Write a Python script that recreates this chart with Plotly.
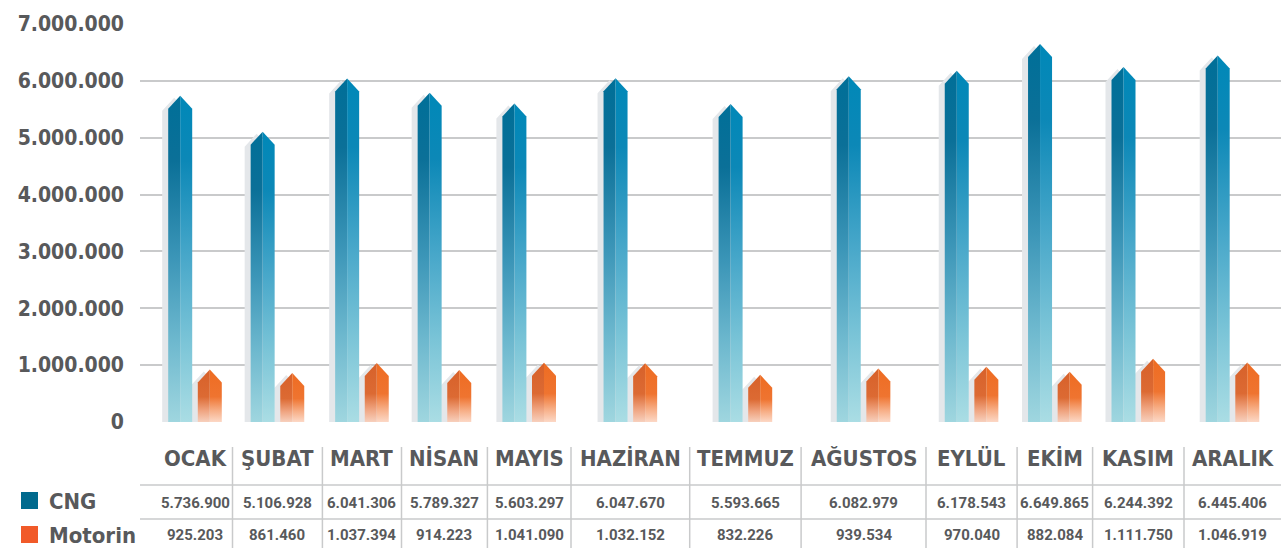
import plotly.graph_objects as go

# ---------------- data ----------------
months = ["OCAK", "ŞUBAT", "MART", "NİSAN", "MAYIS", "HAZİRAN",
          "TEMMUZ", "AĞUSTOS", "EYLÜL", "EKİM", "KASIM", "ARALIK"]
cng = [5736900, 5106928, 6041306, 5789327, 5603297, 6047670,
       5593665, 6082979, 6178543, 6649865, 6244392, 6445406]
motorin = [925203, 861460, 1037394, 914223, 1041090, 1032152,
           832226, 939534, 970040, 882084, 1111750, 1046919]
series_names = ["CNG", "Motorin"]
y_ticks = [0, 1000000, 2000000, 3000000, 4000000, 5000000, 6000000, 7000000]
y_tick_labels = ["0", "1.000.000", "2.000.000", "3.000.000", "4.000.000",
                 "5.000.000", "6.000.000", "7.000.000"]

# ---------------- layout (pixels) ----------------
W, H = 1281, 548
PL, PR, PT, PB = 140, 1281, 24, 422
col_edges = [157.5, 232.5, 322.4, 401.5, 487.4, 571, 689.7, 801.1,
             926, 1017.1, 1092.6, 1184, 1281]
BAR_W = 24
HALF_PAIR = 14.8
TIP_PX = 13
SHADOW_DX = 6
SHADOW_DY = 2
YMAX = 7000000
PX2VAL = YMAX / (PB - PT)

TEXT = "#58595B"
GRID = "#C9CACB"
COND = "DejaVu Sans Condensed, DejaVu Sans, sans-serif"
NUMF = "Roboto, DejaVu Sans Condensed, sans-serif"

cng_left = [[0, "#9FD6DF"], [0.25, "#6DB8CE"], [0.5, "#3C96B8"], [0.8, "#0B7098"], [1, "#006F98"]]
cng_right = [[0, "#AADDE4"], [0.25, "#7AC4D7"], [0.5, "#49A8CA"], [0.8, "#0C88B7"], [1, "#0088B8"]]
mot_left = [[0, "#F7D0BD"], [0.22, "#EFA37F"], [0.48, "#DC6A33"], [1, "#D7612A"]]
mot_right = [[0, "#FCD8C6"], [0.22, "#F7AE86"], [0.48, "#EF7430"], [1, "#EE6C22"]]


def px_x(x):
    return (x - PL) / (PR - PL)


def px_y(y):
    return (PB - y) / (PB - PT)


centers = [(a + b) / 2 for a, b in zip(col_edges[:-1], col_edges[1:])]
tip = TIP_PX * PX2VAL

fig = go.Figure()

# shadows
sx, sy = [], []
for vals, off in ((cng, -HALF_PAIR), (motorin, HALF_PAIR)):
    for c, v in zip(centers, vals):
        xc = c + off - SHADOW_DX
        top = v - SHADOW_DY * PX2VAL
        sx += [xc - BAR_W / 2, xc - BAR_W / 2, xc, xc + BAR_W / 2, xc + BAR_W / 2, xc - BAR_W / 2, None]
        sy += [0, top - tip, top, top - tip, 0, 0, None]
fig.add_trace(go.Scatter(x=sx, y=sy, mode="lines", line=dict(width=0),
                         fill="toself", fillcolor="#E4E7EA", hoverinfo="skip",
                         showlegend=False))

# bars (two faces each, vertical gradient)
for vals, off, csl, csr in ((cng, -HALF_PAIR, cng_left, cng_right),
                            (motorin, HALF_PAIR, mot_left, mot_right)):
    for c, v in zip(centers, vals):
        xc = c + off
        l = xc - BAR_W / 2
        r = xc + BAR_W / 2
        fig.add_trace(go.Scatter(
            x=[l, l, xc, xc, l], y=[0, v - tip, v, 0, 0], mode="lines",
            line=dict(width=0), fill="toself",
            fillgradient=dict(type="vertical", colorscale=csl, start=0, stop=v),
            hoverinfo="skip", showlegend=False))
        fig.add_trace(go.Scatter(
            x=[xc, xc, r, r, xc], y=[0, v, v - tip, 0, 0], mode="lines",
            line=dict(width=0), fill="toself",
            fillgradient=dict(type="vertical", colorscale=csr, start=0, stop=v),
            hoverinfo="skip", showlegend=False))

shapes = []
annotations = []

# table lines
for yl in (485, 519):
    shapes.append(dict(type="line", xref="paper", yref="paper",
                       x0=px_x(PL), x1=px_x(W), y0=px_y(yl), y1=px_y(yl),
                       line=dict(color=GRID, width=1.5)))
for e in col_edges[1:-1]:
    shapes.append(dict(type="line", xref="paper", yref="paper",
                       x0=px_x(e), x1=px_x(e), y0=px_y(447), y1=px_y(H),
                       line=dict(color=GRID, width=1.5)))


def fmt(v):
    return f"{v:,}".replace(",", ".")


for c, m, a, b in zip(centers, months, cng, motorin):
    annotations.append(dict(x=px_x(c), y=px_y(459), xref="paper", yref="paper",
                            text=m, showarrow=False, xanchor="center", yanchor="middle",
                            font=dict(family=COND, size=22, color=TEXT, weight="bold")))
    annotations.append(dict(x=px_x(c), y=px_y(503.5), xref="paper", yref="paper",
                            text=fmt(a), showarrow=False, xanchor="center", yanchor="middle",
                            font=dict(family=NUMF, size=15, color=TEXT, weight="bold")))
    annotations.append(dict(x=px_x(c), y=px_y(535), xref="paper", yref="paper",
                            text=fmt(b), showarrow=False, xanchor="center", yanchor="middle",
                            font=dict(family=NUMF, size=15, color=TEXT, weight="bold")))

# legend
for name, col, yc in ((series_names[0], "#006A8E", 501), (series_names[1], "#F15A29", 535)):
    shapes.append(dict(type="rect", xref="paper", yref="paper",
                       x0=px_x(21), x1=px_x(38), y0=px_y(yc - 9), y1=px_y(yc + 8),
                       fillcolor=col, line=dict(width=0)))
    annotations.append(dict(x=px_x(47), y=px_y(yc), xref="paper", yref="paper",
                            text=name, showarrow=False, xanchor="left", yanchor="middle",
                            font=dict(family=COND, size=22, color=TEXT, weight="bold")))

fig.update_layout(
    width=W, height=H,
    margin=dict(l=PL, r=W - PR, t=PT, b=H - PB),
    paper_bgcolor="white", plot_bgcolor="white",
    showlegend=False,
    xaxis=dict(range=[PL, PR], showgrid=False, zeroline=False, showticklabels=False,
               showline=False, fixedrange=True),
    yaxis=dict(range=[0, YMAX], tickvals=y_ticks, ticktext=y_tick_labels,
               showgrid=True, gridcolor=GRID, gridwidth=1.5, zeroline=False,
               showline=False, ticks="", ticklabelstandoff=15,
               tickfont=dict(family=COND, size=21, color=TEXT, weight="bold"),
               fixedrange=True),
    shapes=shapes,
    annotations=annotations,
)

fig.write_html("out.html", config={"displayModeBar": False},
               post_script="document.body.style.margin='0';document.body.style.overflow='hidden';")
